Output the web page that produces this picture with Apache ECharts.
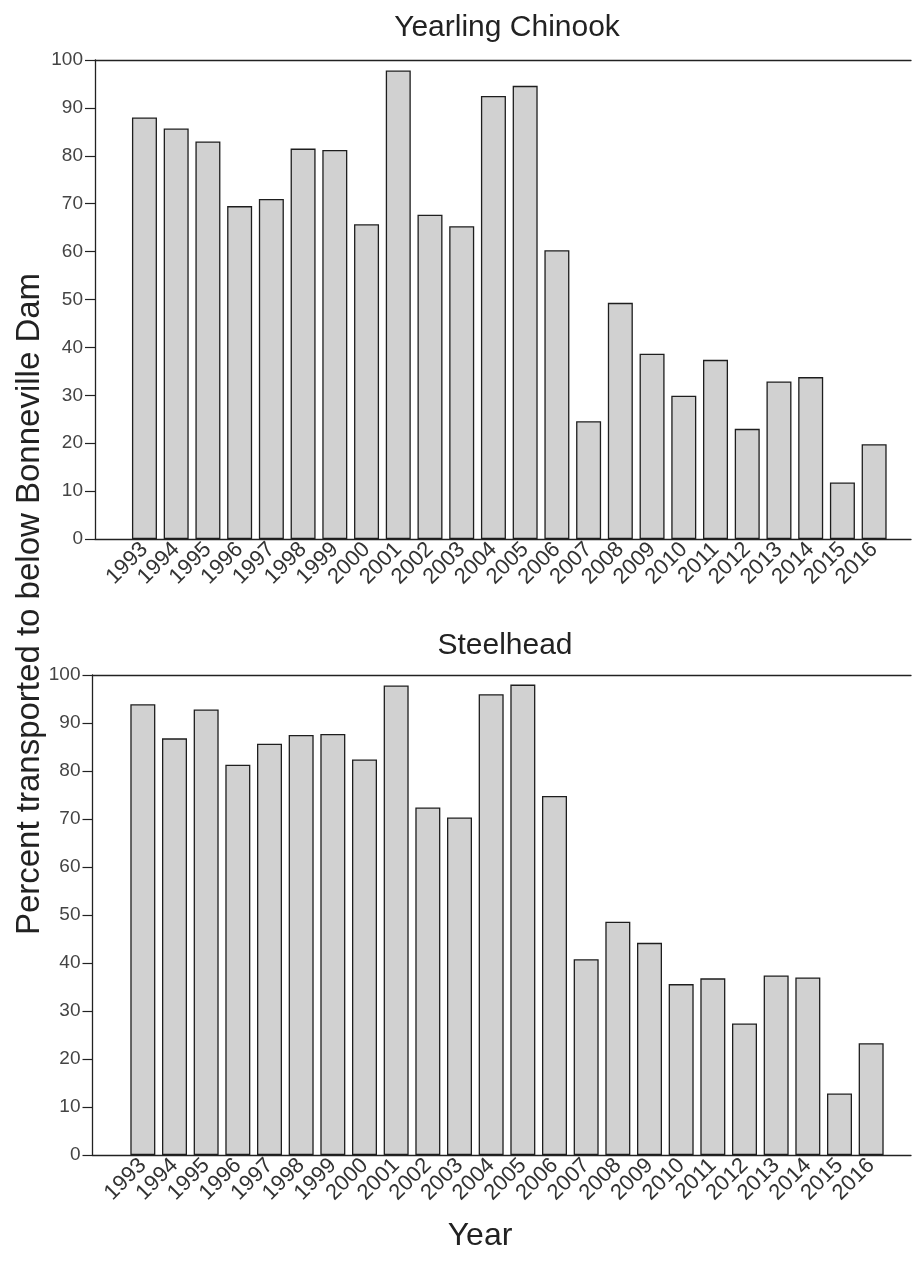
<!DOCTYPE html>
<html>
<head>
<meta charset="utf-8">
<script src="https://cdn.jsdelivr.net/npm/echarts@6/dist/echarts.min.js"></script>
<style>
html,body{margin:0;padding:0;background:#fff;}
#chart{width:913px;height:1264px;}
</style>
</head>
<body>
<div id="chart"></div>
<script>
const years = ['1993','1994','1995','1996','1997','1998','1999','2000','2001','2002','2003','2004',
               '2005','2006','2007','2008','2009','2010','2011','2012','2013','2014','2015','2016'];
const chinook = [88.0, 85.7, 83.0, 69.5, 71.0, 81.5, 81.2, 65.7, 97.8, 67.7, 65.3, 92.5,
                 94.6, 60.3, 24.6, 49.3, 38.7, 29.9, 37.4, 23.0, 32.9, 33.8, 11.8, 19.8];
const steelhead = [93.9, 86.8, 92.8, 81.3, 85.7, 87.5, 87.7, 82.4, 97.8, 72.4, 70.3, 96.0,
                   98.0, 74.8, 40.8, 48.6, 44.2, 35.6, 36.8, 27.4, 37.4, 37.0, 12.8, 23.3];
const titles = ['Yearling Chinook', 'Steelhead'];
const yAxisName = 'Percent transported to below Bonneville Dam';
const xAxisName = 'Year';

const FONT = '"Liberation Sans", Arial, sans-serif';
const chart = echarts.init(document.getElementById('chart'), null, {renderer: 'canvas'});

function frameY(gridIndex) {
  return {
    type: 'value', gridIndex, min: 0, max: 100, interval: 10,
    axisLine: {show: true, lineStyle: {color: '#222', width: 1.3}},
    axisTick: {show: true, length: 10, lineStyle: {color: '#222', width: 1.2}},
    axisLabel: {show: true, fontSize: 19, color: '#444', margin: 12, fontFamily: FONT},
    splitLine: {show: false}
  };
}
function hiddenY(gridIndex) {
  return {type: 'value', gridIndex, min: 0, max: 100, show: false, splitLine: {show: false}};
}
function frameX(gridIndex, position) {
  return {
    type: 'value', gridIndex, min: 0, max: 1, position,
    axisLine: {show: true, onZero: false, lineStyle: {color: '#222', width: 1.3}},
    axisTick: {show: false}, axisLabel: {show: false}, splitLine: {show: false}
  };
}
function catX(gridIndex) {
  return {
    type: 'category', gridIndex, data: years,
    axisLine: {show: false}, axisTick: {show: false}, splitLine: {show: false},
    axisLabel: {show: true, rotate: 45, fontSize: 22, color: '#333', margin: 7, interval: 0, fontFamily: FONT}
  };
}
const barStyle = {color: '#d1d1d1', borderColor: '#1e1e1e', borderWidth: 1.3};

const option = {
  backgroundColor: '#ffffff',
  animation: false,
  grid: [
    {left: 95, right: 2, top: 60, height: 479},
    {left: 128.6, right: 23, top: 60, height: 479},
    {left: 92.5, right: 2, top: 675, height: 480},
    {left: 127, right: 26, top: 675, height: 480}
  ],
  xAxis: [
    frameX(0, 'bottom'), frameX(0, 'top'), catX(1),
    frameX(2, 'bottom'), frameX(2, 'top'), catX(3)
  ],
  yAxis: [
    frameY(0), hiddenY(1), frameY(2), hiddenY(3)
  ],
  series: [
    {type: 'bar', name: titles[0], xAxisIndex: 2, yAxisIndex: 1, data: chinook, barWidth: 25, itemStyle: barStyle},
    {type: 'bar', name: titles[1], xAxisIndex: 5, yAxisIndex: 3, data: steelhead, barWidth: 25, itemStyle: barStyle}
  ],
  graphic: [
    {type: 'text', x: 507, y: 28, style: {text: titles[0], fontSize: 30, fontFamily: FONT, fill: '#222', align: 'center', verticalAlign: 'middle'}},
    {type: 'text', x: 505, y: 646, style: {text: titles[1], fontSize: 30, fontFamily: FONT, fill: '#222', align: 'center', verticalAlign: 'middle'}},
    {type: 'text', x: 30, y: 604, rotation: Math.PI / 2, style: {text: yAxisName, fontSize: 33, fontFamily: FONT, fill: '#222', align: 'center', verticalAlign: 'middle'}},
    {type: 'text', x: 480, y: 1236, style: {text: xAxisName, fontSize: 32, fontFamily: FONT, fill: '#222', align: 'center', verticalAlign: 'middle'}}
  ]
};
chart.setOption(option);
</script>
</body>
</html>
